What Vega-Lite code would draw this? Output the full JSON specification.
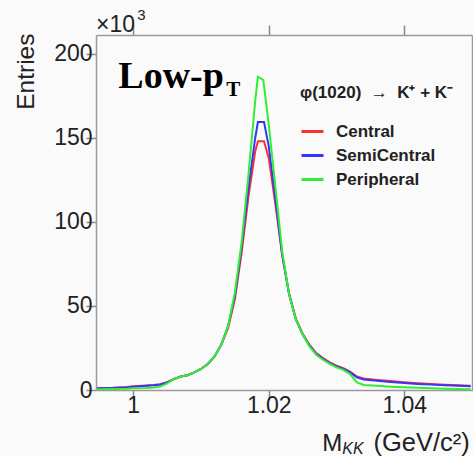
{
  "$schema": "https://vega.github.io/schema/vega-lite/v6.json",
  "width": 376,
  "height": 355,
  "autosize": {"type": "none"},
  "padding": {"left": 96, "top": 35, "right": 1, "bottom": 66},
  "background": "#fafafa",
  "config": {
    "view": {"stroke": null},
    "font": "Liberation Sans",
    "axis": {
      "grid": false,
      "ticks": true,
      "domainColor": "#9a9a9a",
      "domainWidth": 1.5,
      "tickColor": "#8a8a8a",
      "tickWidth": 1.5,
      "tickSize": 10,
      "labelFont": "Liberation Sans",
      "labelFontSize": 23,
      "labelColor": "#222",
      "titleFont": "Liberation Sans",
      "titleFontWeight": "normal",
      "titleColor": "#222"
    }
  },
  "datasets": {
    "hist": [
      {"x": 0.9947, "y": 1.0, "s": "Central"}, {"x": 0.997, "y": 1.3, "s": "Central"}, {"x": 0.999, "y": 1.8, "s": "Central"}, {"x": 1.0, "y": 2.2, "s": "Central"}, {"x": 1.002, "y": 2.7, "s": "Central"}, {"x": 1.003, "y": 3.0, "s": "Central"}, {"x": 1.004, "y": 3.5, "s": "Central"}, {"x": 1.005, "y": 4.6, "s": "Central"}, {"x": 1.006, "y": 6.5, "s": "Central"}, {"x": 1.007, "y": 8.0, "s": "Central"}, {"x": 1.008, "y": 8.8, "s": "Central"}, {"x": 1.009, "y": 10.5, "s": "Central"}, {"x": 1.01, "y": 12.5, "s": "Central"}, {"x": 1.011, "y": 15.5, "s": "Central"}, {"x": 1.012, "y": 20, "s": "Central"}, {"x": 1.013, "y": 27, "s": "Central"}, {"x": 1.014, "y": 37, "s": "Central"}, {"x": 1.015, "y": 54, "s": "Central"}, {"x": 1.016, "y": 82, "s": "Central"}, {"x": 1.017, "y": 115, "s": "Central"}, {"x": 1.018, "y": 142, "s": "Central"}, {"x": 1.0184, "y": 148, "s": "Central"}, {"x": 1.0193, "y": 148, "s": "Central"}, {"x": 1.02, "y": 138, "s": "Central"}, {"x": 1.021, "y": 110, "s": "Central"}, {"x": 1.022, "y": 80, "s": "Central"}, {"x": 1.023, "y": 57.5, "s": "Central"}, {"x": 1.024, "y": 42.5, "s": "Central"}, {"x": 1.025, "y": 33.5, "s": "Central"}, {"x": 1.026, "y": 27, "s": "Central"}, {"x": 1.027, "y": 22, "s": "Central"}, {"x": 1.028, "y": 19, "s": "Central"}, {"x": 1.029, "y": 16.5, "s": "Central"}, {"x": 1.03, "y": 14.5, "s": "Central"}, {"x": 1.031, "y": 13, "s": "Central"}, {"x": 1.032, "y": 11, "s": "Central"}, {"x": 1.033, "y": 8, "s": "Central"}, {"x": 1.034, "y": 6.8, "s": "Central"}, {"x": 1.036, "y": 6, "s": "Central"}, {"x": 1.038, "y": 5.3, "s": "Central"}, {"x": 1.04, "y": 4.6, "s": "Central"}, {"x": 1.042, "y": 4, "s": "Central"}, {"x": 1.044, "y": 3.5, "s": "Central"}, {"x": 1.046, "y": 3.1, "s": "Central"}, {"x": 1.048, "y": 2.8, "s": "Central"}, {"x": 1.0498, "y": 2.5, "s": "Central"},

      {"x": 0.9947, "y": 1.0, "s": "SemiCentral"}, {"x": 0.997, "y": 1.2, "s": "SemiCentral"}, {"x": 0.999, "y": 1.5, "s": "SemiCentral"}, {"x": 1.0, "y": 2.0, "s": "SemiCentral"}, {"x": 1.002, "y": 2.5, "s": "SemiCentral"}, {"x": 1.003, "y": 2.8, "s": "SemiCentral"}, {"x": 1.004, "y": 3.3, "s": "SemiCentral"}, {"x": 1.005, "y": 4.5, "s": "SemiCentral"}, {"x": 1.006, "y": 6.5, "s": "SemiCentral"}, {"x": 1.007, "y": 8.0, "s": "SemiCentral"}, {"x": 1.008, "y": 8.8, "s": "SemiCentral"}, {"x": 1.009, "y": 10.5, "s": "SemiCentral"}, {"x": 1.01, "y": 12.5, "s": "SemiCentral"}, {"x": 1.011, "y": 15.5, "s": "SemiCentral"}, {"x": 1.012, "y": 20, "s": "SemiCentral"}, {"x": 1.013, "y": 27, "s": "SemiCentral"}, {"x": 1.014, "y": 38, "s": "SemiCentral"}, {"x": 1.015, "y": 56, "s": "SemiCentral"}, {"x": 1.016, "y": 85, "s": "SemiCentral"}, {"x": 1.017, "y": 120, "s": "SemiCentral"}, {"x": 1.018, "y": 150, "s": "SemiCentral"}, {"x": 1.0184, "y": 159.5, "s": "SemiCentral"}, {"x": 1.0193, "y": 159.5, "s": "SemiCentral"}, {"x": 1.02, "y": 145, "s": "SemiCentral"}, {"x": 1.021, "y": 113, "s": "SemiCentral"}, {"x": 1.022, "y": 80, "s": "SemiCentral"}, {"x": 1.023, "y": 57, "s": "SemiCentral"}, {"x": 1.024, "y": 42, "s": "SemiCentral"}, {"x": 1.025, "y": 33, "s": "SemiCentral"}, {"x": 1.026, "y": 26.5, "s": "SemiCentral"}, {"x": 1.027, "y": 21.5, "s": "SemiCentral"}, {"x": 1.028, "y": 18.5, "s": "SemiCentral"}, {"x": 1.029, "y": 16, "s": "SemiCentral"}, {"x": 1.03, "y": 14, "s": "SemiCentral"}, {"x": 1.031, "y": 12.5, "s": "SemiCentral"}, {"x": 1.032, "y": 10.5, "s": "SemiCentral"}, {"x": 1.033, "y": 7.5, "s": "SemiCentral"}, {"x": 1.034, "y": 6.3, "s": "SemiCentral"}, {"x": 1.036, "y": 5.5, "s": "SemiCentral"}, {"x": 1.038, "y": 4.8, "s": "SemiCentral"}, {"x": 1.04, "y": 4.2, "s": "SemiCentral"}, {"x": 1.042, "y": 3.6, "s": "SemiCentral"}, {"x": 1.044, "y": 3.2, "s": "SemiCentral"}, {"x": 1.046, "y": 2.8, "s": "SemiCentral"}, {"x": 1.048, "y": 2.5, "s": "SemiCentral"}, {"x": 1.0498, "y": 2.3, "s": "SemiCentral"},

      {"x": 0.9947, "y": 0.5, "s": "Peripheral"}, {"x": 0.997, "y": 0.6, "s": "Peripheral"}, {"x": 0.999, "y": 0.8, "s": "Peripheral"}, {"x": 1.0, "y": 1.0, "s": "Peripheral"}, {"x": 1.002, "y": 1.2, "s": "Peripheral"}, {"x": 1.003, "y": 1.5, "s": "Peripheral"}, {"x": 1.004, "y": 2.0, "s": "Peripheral"}, {"x": 1.005, "y": 4.0, "s": "Peripheral"}, {"x": 1.006, "y": 6.5, "s": "Peripheral"}, {"x": 1.007, "y": 8.0, "s": "Peripheral"}, {"x": 1.008, "y": 8.8, "s": "Peripheral"}, {"x": 1.009, "y": 10.5, "s": "Peripheral"}, {"x": 1.01, "y": 12.5, "s": "Peripheral"}, {"x": 1.011, "y": 15.5, "s": "Peripheral"}, {"x": 1.012, "y": 20, "s": "Peripheral"}, {"x": 1.013, "y": 27, "s": "Peripheral"}, {"x": 1.014, "y": 38, "s": "Peripheral"}, {"x": 1.015, "y": 58, "s": "Peripheral"}, {"x": 1.016, "y": 88, "s": "Peripheral"}, {"x": 1.017, "y": 128, "s": "Peripheral"}, {"x": 1.018, "y": 172, "s": "Peripheral"}, {"x": 1.0184, "y": 186.5, "s": "Peripheral"}, {"x": 1.0192, "y": 184.5, "s": "Peripheral"}, {"x": 1.02, "y": 158, "s": "Peripheral"}, {"x": 1.021, "y": 120, "s": "Peripheral"}, {"x": 1.022, "y": 82, "s": "Peripheral"}, {"x": 1.023, "y": 57, "s": "Peripheral"}, {"x": 1.024, "y": 42, "s": "Peripheral"}, {"x": 1.025, "y": 33, "s": "Peripheral"}, {"x": 1.026, "y": 26, "s": "Peripheral"}, {"x": 1.027, "y": 21, "s": "Peripheral"}, {"x": 1.028, "y": 18, "s": "Peripheral"}, {"x": 1.029, "y": 15.5, "s": "Peripheral"}, {"x": 1.03, "y": 13.5, "s": "Peripheral"}, {"x": 1.031, "y": 12, "s": "Peripheral"}, {"x": 1.032, "y": 9.5, "s": "Peripheral"}, {"x": 1.033, "y": 4.5, "s": "Peripheral"}, {"x": 1.034, "y": 3, "s": "Peripheral"}, {"x": 1.036, "y": 2.5, "s": "Peripheral"}, {"x": 1.038, "y": 2, "s": "Peripheral"}, {"x": 1.04, "y": 1.6, "s": "Peripheral"}, {"x": 1.042, "y": 1.3, "s": "Peripheral"}, {"x": 1.044, "y": 1.0, "s": "Peripheral"}, {"x": 1.046, "y": 0.8, "s": "Peripheral"}, {"x": 1.048, "y": 0.6, "s": "Peripheral"}, {"x": 1.0498, "y": 0.5, "s": "Peripheral"}
    ],
    "labels": [
      {"x": 0.99779, "y": 179.8, "t": "Low-p", "k": "big"},
      {"x": 1.01372, "y": 175.0, "t": "T", "k": "sub"},
      {"x": 0.9945, "y": 213, "t": "×10", "k": "exp"},
      {"x": 1.0006, "y": 220.5, "t": "3", "k": "sup"},
      {"x": 1.02790, "y": -36.3, "t": "M", "k": "xt"},
      {"x": 1.03085, "y": -38.3, "t": "KK", "k": "xsub"},
      {"x": 1.04968, "y": -36.3, "t": "(GeV/c²)", "k": "xend"}
    ]
  },
  "layer": [
    {
      "data": {"name": "hist"},
      "mark": {"type": "line", "strokeWidth": 2, "interpolate": "linear", "clip": true},
      "encoding": {
        "x": {
          "field": "x", "type": "quantitative",
          "scale": {"domain": [0.9945, 1.05], "nice": false, "zero": false},
          "axis": {
            "orient": "bottom", "values": [1, 1.02, 1.04], "format": "~g",
            "labelPadding": -6,
            "encode": {"ticks": {"update": {"y2": {"value": -10}}}},
            "title": null
          }
        },
        "y": {
          "field": "y", "type": "quantitative",
          "scale": {"domain": [0, 211.3], "nice": false},
          "axis": {
            "orient": "left", "values": [0, 50, 100, 150, 200],
            "labelPadding": -6,
            "encode": {"ticks": {"update": {"x2": {"value": 10}}}},
            "title": "Entries", "titleFontSize": 24.5,
            "titleAngle": -90, "titleAlign": "right", "titleBaseline": "alphabetic",
            "titleX": -63, "titleY": -2
          }
        },
        "color": {
          "field": "s", "type": "nominal",
          "scale": {"domain": ["Central", "SemiCentral", "Peripheral"], "range": ["#ff3030", "#3535ff", "#30ee30"]},
          "legend": {
            "orient": "none", "legendX": 204, "legendY": 50,
            "title": "φ(1020) \u00a0→\u00a0 K⁺ + K⁻",
            "titleFont": "Liberation Sans", "titleFontSize": 17, "titleFontWeight": "bold", "titleColor": "#222",
            "titlePadding": 17,
            "labelFont": "Liberation Sans", "labelFontSize": 17, "labelFontWeight": "bold", "labelColor": "#222",
            "labelOffset": 11,
            "symbolType": "stroke", "symbolStrokeWidth": 3, "symbolSize": 484,
            "rowPadding": 3
          }
        }
      }
    },
    {
      "data": {"name": "labels"},
      "transform": [{"filter": "datum.k == 'exp'"}],
      "mark": {"type": "text", "align": "left", "baseline": "alphabetic", "fontSize": 23, "font": "Liberation Sans", "color": "#222"},
      "encoding": {
        "x": {
          "field": "x", "type": "quantitative",
          "scale": {"domain": [0.9945, 1.05], "nice": false, "zero": false},
          "axis": {"orient": "top", "values": [1, 1.02, 1.04], "labels": false, "title": null,
                   "encode": {"ticks": {"update": {"y2": {"value": 10}}}}}
        },
        "y": {
          "field": "y", "type": "quantitative",
          "scale": {"domain": [0, 211.3], "nice": false},
          "axis": {"orient": "right", "values": [0, 50, 100, 150, 200], "labels": false, "title": null,
                   "encode": {"ticks": {"update": {"x2": {"value": -10}}}}}
        },
        "text": {"field": "t"}
      }
    },
    {
      "data": {"name": "labels"},
      "transform": [{"filter": "datum.k == 'sup'"}],
      "mark": {"type": "text", "align": "left", "baseline": "alphabetic", "fontSize": 15, "font": "Liberation Sans", "color": "#222"},
      "encoding": {
        "x": {"field": "x", "type": "quantitative", "scale": {"domain": [0.9945, 1.05], "nice": false, "zero": false}, "axis": null},
        "y": {"field": "y", "type": "quantitative", "scale": {"domain": [0, 211.3], "nice": false}, "axis": null},
        "text": {"field": "t"}
      }
    },
    {
      "data": {"name": "labels"},
      "transform": [{"filter": "datum.k == 'big'"}],
      "mark": {"type": "text", "align": "left", "baseline": "alphabetic", "fontSize": 38, "font": "Liberation Serif", "fontWeight": "bold", "color": "#000"},
      "encoding": {
        "x": {"field": "x", "type": "quantitative", "scale": {"domain": [0.9945, 1.05], "nice": false, "zero": false}, "axis": null},
        "y": {"field": "y", "type": "quantitative", "scale": {"domain": [0, 211.3], "nice": false}, "axis": null},
        "text": {"field": "t"}
      }
    },
    {
      "data": {"name": "labels"},
      "transform": [{"filter": "datum.k == 'sub'"}],
      "mark": {"type": "text", "align": "left", "baseline": "alphabetic", "fontSize": 21, "font": "Liberation Serif", "fontWeight": "bold", "color": "#000"},
      "encoding": {
        "x": {"field": "x", "type": "quantitative", "scale": {"domain": [0.9945, 1.05], "nice": false, "zero": false}, "axis": null},
        "y": {"field": "y", "type": "quantitative", "scale": {"domain": [0, 211.3], "nice": false}, "axis": null},
        "text": {"field": "t"}
      }
    },
    {
      "data": {"name": "labels"},
      "transform": [{"filter": "datum.k == 'xt'"}],
      "mark": {"type": "text", "align": "left", "baseline": "alphabetic", "fontSize": 24, "font": "Liberation Sans", "color": "#222"},
      "encoding": {
        "x": {"field": "x", "type": "quantitative", "scale": {"domain": [0.9945, 1.05], "nice": false, "zero": false}, "axis": null},
        "y": {"field": "y", "type": "quantitative", "scale": {"domain": [0, 211.3], "nice": false}, "axis": null},
        "text": {"field": "t"}
      }
    },
    {
      "data": {"name": "labels"},
      "transform": [{"filter": "datum.k == 'xsub'"}],
      "mark": {"type": "text", "align": "left", "baseline": "alphabetic", "fontSize": 16, "font": "Liberation Sans", "fontStyle": "italic", "color": "#222"},
      "encoding": {
        "x": {"field": "x", "type": "quantitative", "scale": {"domain": [0.9945, 1.05], "nice": false, "zero": false}, "axis": null},
        "y": {"field": "y", "type": "quantitative", "scale": {"domain": [0, 211.3], "nice": false}, "axis": null},
        "text": {"field": "t"}
      }
    },
    {
      "data": {"name": "labels"},
      "transform": [{"filter": "datum.k == 'xend'"}],
      "mark": {"type": "text", "align": "right", "baseline": "alphabetic", "fontSize": 25.5, "font": "Liberation Sans", "color": "#222"},
      "encoding": {
        "x": {"field": "x", "type": "quantitative", "scale": {"domain": [0.9945, 1.05], "nice": false, "zero": false}, "axis": null},
        "y": {"field": "y", "type": "quantitative", "scale": {"domain": [0, 211.3], "nice": false}, "axis": null},
        "text": {"field": "t"}
      }
    }
  ],
  "resolve": {"axis": {"x": "independent", "y": "independent"}}
}
